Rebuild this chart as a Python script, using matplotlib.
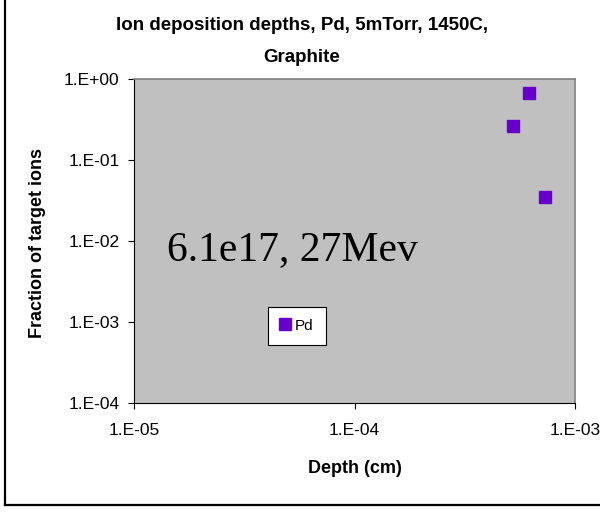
import matplotlib.pyplot as plt
from matplotlib.lines import Line2D

depth = [5.25e-4, 6.18e-4, 7.29e-4]          # cm
fraction = [0.265, 0.677, 0.0346]
x_ticks = [1e-5, 1e-4, 1e-3]
x_labels = ["1.E-05", "1.E-04", "1.E-03"]
y_ticks = [1e-4, 1e-3, 1e-2, 1e-1, 1e0]
y_labels = ["1.E-04", "1.E-03", "1.E-02", "1.E-01", "1.E+00"]

plt.rcParams["font.family"] = "Liberation Sans"

fig = plt.figure(figsize=(6, 5.13), dpi=100, facecolor="white")
ax = fig.add_axes([134 / 600, 110 / 513, 441 / 600, 324 / 513])
ax.set_facecolor("#c0c0c0")

ax.plot(depth, fraction, "s", color="#6600cc", markersize=8.5, label="Pd",
        linestyle="none")

ax.set_xscale("log")
ax.set_yscale("log")
ax.set_xlim(1e-5, 1e-3)
ax.set_ylim(1e-4, 1e0)
ax.set_xticks(x_ticks)
ax.set_xticklabels(x_labels)
ax.set_yticks(y_ticks)
ax.set_yticklabels(y_labels)
ax.minorticks_off()
ax.tick_params(axis="both", direction="out", length=4, width=0.8, labelsize=12.5,
               color="black")
ax.tick_params(axis="x", pad=10.5)
ax.tick_params(axis="y", pad=6.5)

for side in ["top", "right"]:
    ax.spines[side].set_color("#808080")
    ax.spines[side].set_linewidth(1.2)
for side in ["left", "bottom"]:
    ax.spines[side].set_color("black")
    ax.spines[side].set_linewidth(0.8)

# bold labels, a bit wider like the original
ax.set_xlabel("Depth (cm)", fontsize=13, fontweight="bold")
ax.xaxis.set_label_coords(0.5, -0.175)
ax.set_ylabel("Fraction of target ions", fontsize=13, fontweight="bold")
ax.yaxis.label.set_va("center")
ax.yaxis.set_label_coords(-0.218, 0.495)

fig.text(302 / 600, 1 - 26 / 513, "Ion deposition depths, Pd, 5mTorr, 1450C,",
         ha="center", va="center", fontsize=13.5, fontweight="bold")
fig.text(302 / 600, 1 - 58 / 513, "Graphite",
         ha="center", va="center", fontsize=13.5, fontweight="bold")

ax.text(0.075, 0.441, "6.1e17, 27Mev", transform=ax.transAxes, fontsize=30,
        family="Liberation Serif", va="baseline", ha="left")

leg = ax.legend(loc="lower left", bbox_to_anchor=(0.304, 0.179), borderaxespad=0,
                fancybox=False, edgecolor="black", framealpha=1, fontsize=11,
                handlelength=0.6, handletextpad=0.35, borderpad=0.8)
leg.get_frame().set_linewidth(0.8)

# outer chart frame
fig.add_artist(Line2D([5 / 600, 5 / 600], [8 / 513, 1], transform=fig.transFigure,
                      color="black", lw=1.6))
fig.add_artist(Line2D([5 / 600, 1], [8 / 513, 8 / 513], transform=fig.transFigure,
                      color="black", lw=1.6))

fig.savefig("out.png", dpi=100, facecolor="white")
